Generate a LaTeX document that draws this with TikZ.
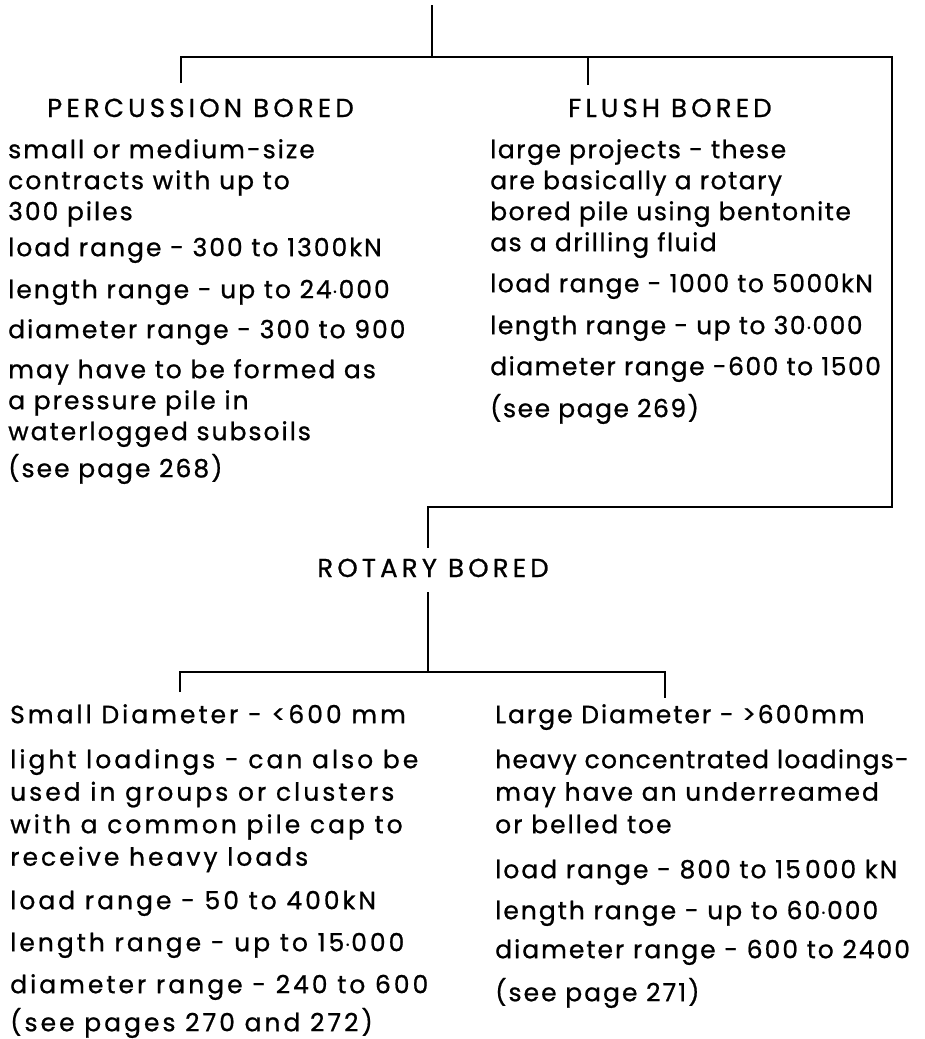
\documentclass[tikz,border=0pt]{standalone}
\usepackage{fontspec}
\setmainfont{Poppins}[LetterSpace=8, FakeBold=0.8]
\usepackage{tikz}

\tikzset{
  heading/.style={inner sep=0pt, anchor=base west, font=\fontsize{26}{30}\selectfont\addfontfeatures{LetterSpace=16}},
  bodytext/.style={inner sep=0pt, anchor=north west, align=left, font=\fontsize{25}{31}\selectfont},
  narrowtext/.style={bodytext, font=\fontsize{25}{31}\selectfont\addfontfeatures{LetterSpace=6}},
  lowertext/.style={bodytext, font=\fontsize{25}{32.5}\selectfont},
  widetext/.style={bodytext, font=\fontsize{25}{32.5}\selectfont\addfontfeatures{LetterSpace=12}},
  branch/.style={line width=1.6pt}
}

\begin{document}
\begin{tikzpicture}[x=1pt, y=-1pt]
  \useasboundingbox (0,0) rectangle (924,1039);

  % headings
  \node[heading] (pbhead) at (47,117) {PERCUSSION BORED};
  \node[heading] (fbhead) at (568,117) {FLUSH BORED};
  \node[heading, anchor=base] (rbhead) at (433,577) {ROTARY BORED};

  % percussion bored
  \node[bodytext] (pbtext) at (8,139) {small or medium-size\\
    contracts with up to\\
    300 piles\\[5pt]
    load range - 300 to 1300kN\\[11pt]
    length range - up to 24$\cdot$000\\[9pt]
    diameter range - 300 to 900\\[9pt]
    may have to be formed as\\
    a pressure pile in\\
    waterlogged subsoils\\[6pt]
    (see page 268)};

  % flush bored
  \node[narrowtext] (fbtext) at (490,139) {large projects - these\\
    are basically a rotary\\
    bored pile using bentonite\\
    as a drilling fluid\\[10pt]
    load range - 1000 to 5000kN\\[11pt]
    length range - up to 30$\cdot$000\\[10pt]
    diameter range -600 to 1500\\[11pt]
    (see page 269)};

  % small diameter
  \node[widetext] (sdtext) at (10,704) {Small Diameter - <600 mm\\[12.5pt]
    light loadings - can also be\\
    used in groups or clusters\\
    with a common pile cap to\\
    receive heavy loads\\[11pt]
    load range - 50 to 400kN\\[9.5pt]
    length range - up to 15$\cdot$000\\[9.5pt]
    diameter range - 240 to 600\\[5.5pt]
    (see pages 270 and 272)};

  % large diameter
  \node[lowertext] (ldtext) at (495,704) {Large Diameter - >600mm\\[12.5pt]
    {\addfontfeatures{LetterSpace=5}heavy concentrated loadings-}\\
    may have an underreamed\\
    or belled toe\\[12.5pt]
    load range - 800 to 15\,000 kN\\[8.5pt]
    length range - up to 60$\cdot$000\\[6.5pt]
    diameter range - 600 to 2400\\[10.5pt]
    (see page 271)};

  % branch points
  \coordinate (top) at (432,5);
  \coordinate (split) at (432,57);
  \coordinate (pbtop) at (181,83);
  \coordinate (fbtop) at (588,85);
  \coordinate (corner1) at (892,57);
  \coordinate (corner2) at (892,507);
  \coordinate (rbin) at (428,548);
  \coordinate (rbout) at (428,592);
  \coordinate (sdjoin) at (428,672);
  \coordinate (sdtop) at (180,692);
  \coordinate (ldtop) at (665,698);

  \draw[branch] (top) -- (split);
  \draw[branch] (pbtop) |- (corner1) -- (corner2) -| (rbin);
  \draw[branch] (fbtop) -- (fbtop |- split);
  \draw[branch] (rbout) -- (sdjoin);
  \draw[branch] (sdtop) |- (sdjoin) -| (ldtop);
\end{tikzpicture}
\end{document}
